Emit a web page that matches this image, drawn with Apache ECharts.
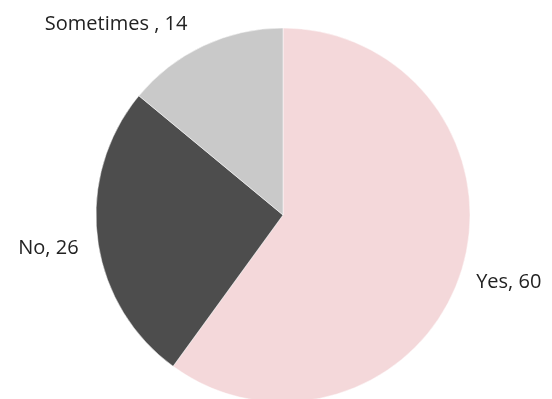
<!DOCTYPE html>
<html>
<head>
<meta charset="utf-8">
<script src="https://cdn.jsdelivr.net/npm/echarts@6/dist/echarts.min.js"></script>
<style>
  html, body { margin: 0; padding: 0; background: #fff; }
  #chart { width: 552px; height: 399px; }
</style>
</head>
<body>
<div id="chart"></div>
<script>
// Answer categories and their counts, drawn clockwise from 12 o'clock
const categories = ['Yes', 'No', 'Sometimes '];
const counts = [60, 26, 14];
const sliceColors = ['#F4D8DA', '#4D4D4D', '#C9C9C9'];
// small nudges so each label sits clear of its slice
const labelNudgeX = [-3, 0, -5];
const labelNudgeY = [5, 8, -9];

const chart = echarts.init(document.getElementById('chart'));
chart.setOption({
  animation: false,
  series: [{
    type: 'pie',
    center: [283, 215],
    radius: [0, 187],
    startAngle: 90,
    clockwise: true,
    data: categories.map((name, i) => ({
      name: name,
      value: counts[i],
      itemStyle: { color: sliceColors[i] }
    })),
    itemStyle: { borderColor: '#ffffff', borderWidth: 0.5 },
    label: {
      show: true,
      position: 'outside',
      formatter: '{b}, {c}',
      fontFamily: 'Open Sans',
      fontSize: 20,
      color: '#222222',
      overflow: 'none'
    },
    labelLine: { show: false, length: 14, length2: 0 },
    labelLayout: function (params) {
      return { dx: labelNudgeX[params.dataIndex], dy: labelNudgeY[params.dataIndex] };
    }
  }]
});
</script>
</body>
</html>
